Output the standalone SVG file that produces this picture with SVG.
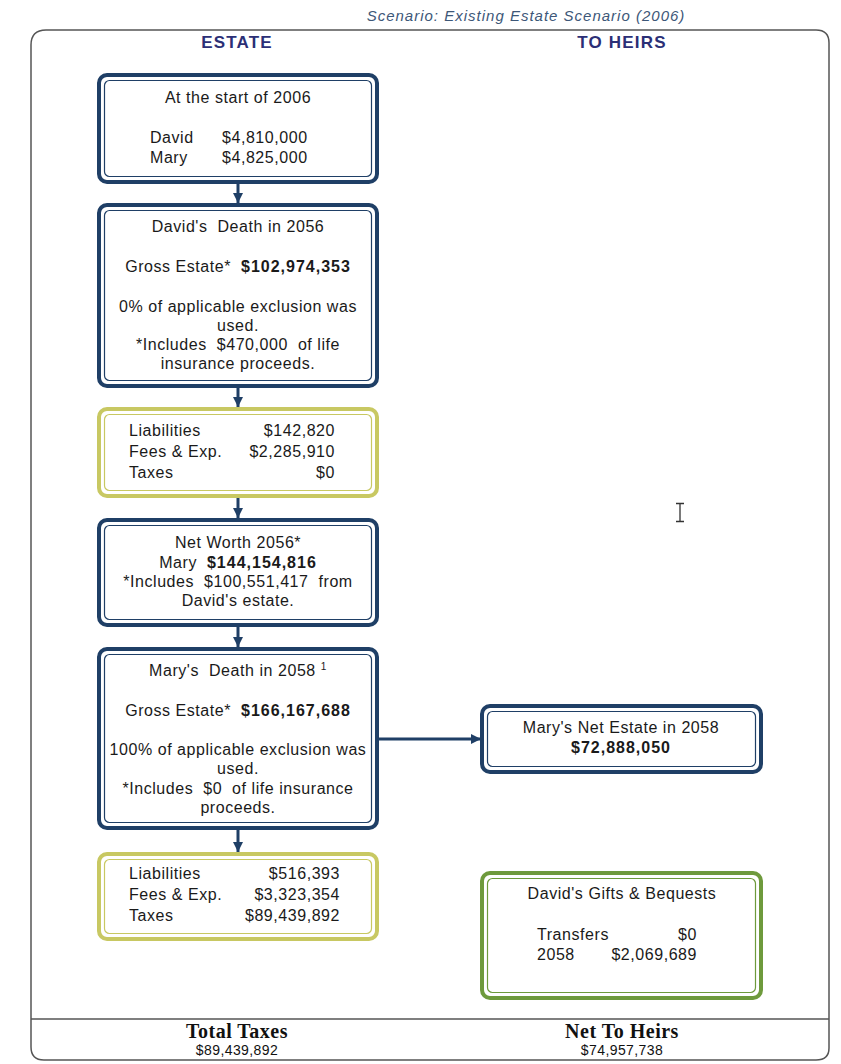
<svg xmlns="http://www.w3.org/2000/svg" width="841" height="1064" viewBox="0 0 841 1064">
<style>
.t{font-family:"Liberation Sans",Arial,sans-serif;font-size:16px;fill:#1a1a1a;letter-spacing:0.55px}
.c{text-anchor:middle}
.r{text-anchor:end}
.b{font-weight:bold;letter-spacing:1px}
.hd{font-family:"Liberation Sans",Arial,sans-serif;font-size:17px;font-weight:bold;fill:#2b2f76;text-anchor:middle;letter-spacing:1.2px}
.navyO{fill:#fff;stroke:#1f3f66;stroke-width:4}
.navyI{fill:none;stroke:#1f3f66;stroke-width:1.2}
.yelO{fill:#fff;stroke:#c8c862;stroke-width:4}
.yelI{fill:none;stroke:#c8c862;stroke-width:1.2}
.grnO{fill:#fff;stroke:#6e9a3c;stroke-width:4}
.grnI{fill:none;stroke:#6e9a3c;stroke-width:1.2}
.conn{stroke:#1f3f66;stroke-width:3;fill:none}
.foot{font-family:"Liberation Serif","Times New Roman",serif;font-size:20px;font-weight:bold;fill:#111;text-anchor:middle;letter-spacing:0.5px}
.footv{font-family:"Liberation Sans",Arial,sans-serif;font-size:14px;fill:#111;text-anchor:middle;letter-spacing:0.4px}
</style>
<defs>
<marker id="ah" viewBox="0 0 10 10" refX="10" refY="5" markerWidth="3.4" markerHeight="3.4" orient="auto" markerUnits="strokeWidth">
<path d="M0,0 L10,5 L0,10 Z" fill="#1f3f66"/>
</marker>
</defs>
<rect width="841" height="1064" fill="#fff"/>
<text x="526" y="21" style="font-family:'Liberation Sans',Arial,sans-serif;font-size:15px;font-style:italic;fill:#3d5778;letter-spacing:1px" text-anchor="middle">Scenario: Existing Estate Scenario (2006)</text>
<g id="frame">
<path d="M46,30 H816 Q829,30 829,43 V1048 Q829,1060 816,1060 H44 Q31,1060 31,1047 V45 Q31,30 46,30 Z" fill="none" stroke="#555" stroke-width="1.5"/>
<line x1="31" y1="1019" x2="829" y2="1019" stroke="#555" stroke-width="1.5"/>
</g>
<text class="hd" x="237" y="48">ESTATE</text>
<text class="hd" x="622" y="48">TO HEIRS</text>
<g id="connectors">
<line class="conn" x1="238" y1="184" x2="238" y2="203" marker-end="url(#ah)"/>
<line class="conn" x1="238" y1="388" x2="238" y2="407" marker-end="url(#ah)"/>
<line class="conn" x1="238" y1="498" x2="238" y2="518" marker-end="url(#ah)"/>
<line class="conn" x1="238" y1="627" x2="238" y2="647" marker-end="url(#ah)"/>
<line class="conn" x1="238" y1="830" x2="238" y2="852" marker-end="url(#ah)"/>
<line class="conn" x1="379" y1="739" x2="481" y2="739" marker-end="url(#ah)"/>
</g>
<g id="start2006">
<rect class="navyO" x="99" y="75" width="278" height="107" rx="8"/>
<rect class="navyI" x="104.5" y="80.5" width="267" height="96" rx="5"/>
<text class="t c" x="238" y="103">At the start of 2006</text>
<text class="t" x="150" y="143">David</text>
<text class="t" x="222" y="143">$4,810,000</text>
<text class="t" x="150" y="163">Mary</text>
<text class="t" x="222" y="163">$4,825,000</text>
</g>
<g id="davidDeath">
<rect class="navyO" x="99" y="205" width="278" height="181" rx="8"/>
<rect class="navyI" x="104.5" y="210.5" width="267" height="170" rx="5"/>
<text class="t c" x="238" y="232">David's&#160; Death in 2056</text>
<text class="t c" x="238" y="272">Gross Estate*&#160; <tspan class="b">$102,974,353</tspan></text>
<text class="t c" x="238" y="312">0% of applicable exclusion was</text>
<text class="t c" x="238" y="331">used.</text>
<text class="t c" x="238" y="350">*Includes&#160; $470,000&#160; of life</text>
<text class="t c" x="238" y="369">insurance proceeds.</text>
</g>
<g id="davidCosts">
<rect class="yelO" x="99" y="409" width="278" height="87" rx="8"/>
<rect class="yelI" x="104.5" y="414.5" width="267" height="76" rx="5"/>
<text class="t" x="129" y="436">Liabilities</text>
<text class="t r" x="335" y="436">$142,820</text>
<text class="t" x="129" y="457">Fees &amp; Exp.</text>
<text class="t r" x="335" y="457">$2,285,910</text>
<text class="t" x="129" y="478">Taxes</text>
<text class="t r" x="335" y="478">$0</text>
</g>
<g id="netWorth2056">
<rect class="navyO" x="99" y="520" width="278" height="105" rx="8"/>
<rect class="navyI" x="104.5" y="525.5" width="267" height="94" rx="5"/>
<text class="t c" x="238" y="548">Net Worth 2056*</text>
<text class="t c" x="238" y="568">Mary&#160; <tspan class="b">$144,154,816</tspan></text>
<text class="t c" x="238" y="587">*Includes&#160; $100,551,417&#160; from</text>
<text class="t c" x="238" y="606">David's estate.</text>
</g>
<g id="maryDeath">
<rect class="navyO" x="99" y="649" width="278" height="179" rx="8"/>
<rect class="navyI" x="104.5" y="654.5" width="267" height="168" rx="5"/>
<text class="t c" x="238" y="676">Mary's&#160; Death in 2058 <tspan style="font-size:10px;fill:#1a1a1a" dy="-6">1</tspan></text>
<text class="t c" x="238" y="716">Gross Estate*&#160; <tspan class="b">$166,167,688</tspan></text>
<text class="t c" x="238" y="755">100% of applicable exclusion was</text>
<text class="t c" x="238" y="774">used.</text>
<text class="t c" x="238" y="794">*Includes&#160; $0&#160; of life insurance</text>
<text class="t c" x="238" y="813">proceeds.</text>
</g>
<g id="maryCosts">
<rect class="yelO" x="99" y="854" width="278" height="85" rx="8"/>
<rect class="yelI" x="104.5" y="859.5" width="267" height="74" rx="5"/>
<text class="t" x="129" y="879">Liabilities</text>
<text class="t r" x="340" y="879">$516,393</text>
<text class="t" x="129" y="900">Fees &amp; Exp.</text>
<text class="t r" x="340" y="900">$3,323,354</text>
<text class="t" x="129" y="921">Taxes</text>
<text class="t r" x="340" y="921">$89,439,892</text>
</g>
<g id="maryNetEstate">
<rect class="navyO" x="482" y="706" width="279" height="66" rx="8"/>
<rect class="navyI" x="487.5" y="711.5" width="268" height="55" rx="5"/>
<text class="t c" x="621" y="733">Mary's Net Estate in 2058</text>
<text class="t c b" x="621" y="753">$72,888,050</text>
</g>
<g id="davidGifts">
<rect class="grnO" x="482" y="873" width="279" height="125" rx="8"/>
<rect class="grnI" x="487.5" y="878.5" width="268" height="114" rx="5"/>
<text class="t c" x="622" y="899">David's Gifts &amp; Bequests</text>
<text class="t" x="537" y="940">Transfers</text>
<text class="t r" x="697" y="940">$0</text>
<text class="t" x="537" y="960">2058</text>
<text class="t r" x="697" y="960">$2,069,689</text>
</g>
<g id="footer">
<text class="foot" x="237" y="1038">Total Taxes</text>
<text class="footv" x="237" y="1055">$89,439,892</text>
<text class="foot" x="622" y="1038">Net To Heirs</text>
<text class="footv" x="622" y="1055">$74,957,738</text>
</g>
<path d="M676,503.5 H684 M680,503.5 V521.5 M676,521.5 H684" stroke="#333" stroke-width="1.3" fill="none"/>
</svg>
